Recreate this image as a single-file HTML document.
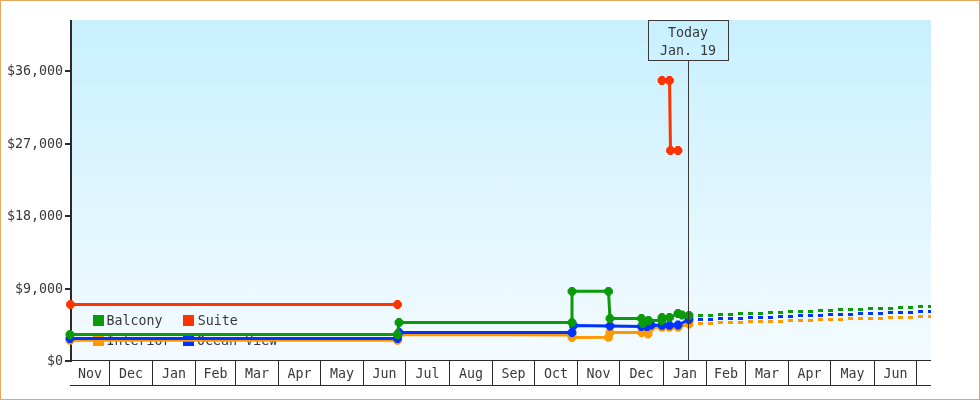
<!DOCTYPE html>
<html lang="en"><head><meta charset="utf-8"><title>Price history</title>
<style>
html,body{margin:0;padding:0;background:#fff;}
body{width:980px;height:400px;overflow:hidden;}
svg{display:block;}
text{font-family:"DejaVu Sans Mono", "Liberation Mono", monospace;font-size:13.3px;fill:#383838;}
</style></head><body>
<svg width="980" height="400" viewBox="0 0 980 400">
<defs><linearGradient id="bg" x1="0" y1="0" x2="0" y2="1"><stop offset="0" stop-color="#C8F0FF"/><stop offset="1" stop-color="#F4FBFF"/></linearGradient></defs>
<rect x="0" y="0" width="980" height="400" fill="#fff"/>
<rect x="0.5" y="0.5" width="979" height="399" fill="none" stroke="#E9A45E" stroke-width="1"/>
<rect x="72" y="20" width="859" height="340" fill="url(#bg)" shape-rendering="crispEdges"/>
<g>
<rect x="93" y="315" width="11" height="11" fill="#0A9A0A" shape-rendering="crispEdges"/>
<text x="106.5" y="324.5">Balcony</text>
<rect x="183" y="315" width="11" height="11" fill="#FF3300" shape-rendering="crispEdges"/>
<text x="197.8" y="324.5">Suite</text>
<rect x="93" y="335" width="11" height="11" fill="#FF9900" shape-rendering="crispEdges"/>
<text x="106.5" y="344.5">Interior</text>
<rect x="183" y="335" width="11" height="11" fill="#0033FF" shape-rendering="crispEdges"/>
<text x="197.1" y="344.5">Ocean View</text>
</g>
<g fill="#2a2a2a" shape-rendering="crispEdges">
<rect x="70" y="20" width="2" height="342"/>
<rect x="65" y="70" width="5" height="2"/>
<rect x="65" y="143" width="5" height="2"/>
<rect x="65" y="215" width="5" height="2"/>
<rect x="65" y="288" width="5" height="2"/>
<rect x="65" y="360" width="5" height="2"/>
<rect x="70" y="360" width="861" height="1"/>
<rect x="70" y="385" width="861" height="1"/>
<rect x="109" y="360" width="1" height="26"/>
<rect x="152" y="360" width="1" height="26"/>
<rect x="195" y="360" width="1" height="26"/>
<rect x="235" y="360" width="1" height="26"/>
<rect x="278" y="360" width="1" height="26"/>
<rect x="320" y="360" width="1" height="26"/>
<rect x="363" y="360" width="1" height="26"/>
<rect x="405" y="360" width="1" height="26"/>
<rect x="449" y="360" width="1" height="26"/>
<rect x="492" y="360" width="1" height="26"/>
<rect x="534" y="360" width="1" height="26"/>
<rect x="577" y="360" width="1" height="26"/>
<rect x="619" y="360" width="1" height="26"/>
<rect x="663" y="360" width="1" height="26"/>
<rect x="706" y="360" width="1" height="26"/>
<rect x="745" y="360" width="1" height="26"/>
<rect x="788" y="360" width="1" height="26"/>
<rect x="830" y="360" width="1" height="26"/>
<rect x="874" y="360" width="1" height="26"/>
<rect x="916" y="360" width="1" height="26"/>
</g>
<g text-anchor="end">
<text x="63" y="75">$36,000</text>
<text x="63" y="148">$27,000</text>
<text x="63" y="220">$18,000</text>
<text x="63" y="293">$9,000</text>
<text x="63" y="365">$0</text>
</g>
<g text-anchor="middle">
<text x="90.0" y="377.5">Nov</text>
<text x="131.0" y="377.5">Dec</text>
<text x="174.0" y="377.5">Jan</text>
<text x="215.5" y="377.5">Feb</text>
<text x="257.0" y="377.5">Mar</text>
<text x="299.5" y="377.5">Apr</text>
<text x="342.0" y="377.5">May</text>
<text x="384.5" y="377.5">Jun</text>
<text x="427.5" y="377.5">Jul</text>
<text x="471.0" y="377.5">Aug</text>
<text x="513.5" y="377.5">Sep</text>
<text x="556.0" y="377.5">Oct</text>
<text x="598.5" y="377.5">Nov</text>
<text x="641.5" y="377.5">Dec</text>
<text x="685.0" y="377.5">Jan</text>
<text x="726.0" y="377.5">Feb</text>
<text x="767.0" y="377.5">Mar</text>
<text x="809.5" y="377.5">Apr</text>
<text x="852.5" y="377.5">May</text>
<text x="895.5" y="377.5">Jun</text>
</g>
<g>
<path d="M70,340.3 L397.5,340.3 L399,334.5 L572,335 L572,337.5 L608.5,337.3 L610,332.5 L641.5,332.5 L648,334 L651,327.3 L662,327.3 L669.5,327.3 L678,327.3 L689,324" fill="none" stroke="#FF9900" stroke-width="3" stroke-linejoin="round" stroke-linecap="butt"/>
<polygon points="68.4,335.9 71.6,335.9 74.4,338.7 74.4,341.9 71.6,344.7 68.4,344.7 65.6,341.9 65.6,338.7" fill="#FF9900"/>
<polygon points="395.9,335.9 399.1,335.9 401.9,338.7 401.9,341.9 399.1,344.7 395.9,344.7 393.1,341.9 393.1,338.7" fill="#FF9900"/>
<polygon points="397.4,330.1 400.6,330.1 403.4,332.9 403.4,336.1 400.6,338.9 397.4,338.9 394.6,336.1 394.6,332.9" fill="#FF9900"/>
<polygon points="570.4,330.6 573.6,330.6 576.4,333.4 576.4,336.6 573.6,339.4 570.4,339.4 567.6,336.6 567.6,333.4" fill="#FF9900"/>
<polygon points="570.4,333.1 573.6,333.1 576.4,335.9 576.4,339.1 573.6,341.9 570.4,341.9 567.6,339.1 567.6,335.9" fill="#FF9900"/>
<polygon points="606.9,332.9 610.1,332.9 612.9,335.7 612.9,338.9 610.1,341.7 606.9,341.7 604.1,338.9 604.1,335.7" fill="#FF9900"/>
<polygon points="608.4,328.1 611.6,328.1 614.4,330.9 614.4,334.1 611.6,336.9 608.4,336.9 605.6,334.1 605.6,330.9" fill="#FF9900"/>
<polygon points="639.9,328.1 643.1,328.1 645.9,330.9 645.9,334.1 643.1,336.9 639.9,336.9 637.1,334.1 637.1,330.9" fill="#FF9900"/>
<polygon points="646.4,329.6 649.6,329.6 652.4,332.4 652.4,335.6 649.6,338.4 646.4,338.4 643.6,335.6 643.6,332.4" fill="#FF9900"/>
<polygon points="649.4,322.9 652.6,322.9 655.4,325.7 655.4,328.9 652.6,331.7 649.4,331.7 646.6,328.9 646.6,325.7" fill="#FF9900"/>
<polygon points="660.4,322.9 663.6,322.9 666.4,325.7 666.4,328.9 663.6,331.7 660.4,331.7 657.6,328.9 657.6,325.7" fill="#FF9900"/>
<polygon points="667.9,322.9 671.1,322.9 673.9,325.7 673.9,328.9 671.1,331.7 667.9,331.7 665.1,328.9 665.1,325.7" fill="#FF9900"/>
<polygon points="676.4,322.9 679.6,322.9 682.4,325.7 682.4,328.9 679.6,331.7 676.4,331.7 673.6,328.9 673.6,325.7" fill="#FF9900"/>
<polygon points="687.4,319.6 690.6,319.6 693.4,322.4 693.4,325.6 690.6,328.4 687.4,328.4 684.6,325.6 684.6,322.4" fill="#FF9900"/>
<g fill="#FF9900" shape-rendering="crispEdges"><rect x="698" y="322" width="5" height="3"/><rect x="708" y="322" width="5" height="3"/><rect x="718" y="321" width="5" height="3"/><rect x="728" y="321" width="5" height="3"/><rect x="738" y="321" width="5" height="3"/><rect x="748" y="320" width="5" height="3"/><rect x="758" y="320" width="5" height="3"/><rect x="768" y="320" width="5" height="3"/><rect x="778" y="320" width="5" height="3"/><rect x="788" y="319" width="5" height="3"/><rect x="798" y="319" width="5" height="3"/><rect x="808" y="319" width="5" height="3"/><rect x="818" y="318" width="5" height="3"/><rect x="828" y="318" width="5" height="3"/><rect x="838" y="318" width="5" height="3"/><rect x="848" y="317" width="5" height="3"/><rect x="858" y="317" width="5" height="3"/><rect x="868" y="317" width="5" height="3"/><rect x="878" y="317" width="5" height="3"/><rect x="888" y="316" width="5" height="3"/><rect x="898" y="316" width="5" height="3"/><rect x="908" y="316" width="5" height="3"/><rect x="918" y="315" width="5" height="3"/><rect x="928" y="315" width="3" height="3"/></g>
<path d="M70,338.5 L397.5,338.5 L399,332.5 L572,332.5 L573.5,325.5 L610,326 L641.5,326.5 L647,326.5 L651,325.2 L662,325.3 L669.5,325.3 L678,325 L689,319.5" fill="none" stroke="#0033FF" stroke-width="3" stroke-linejoin="round" stroke-linecap="butt"/>
<polygon points="68.4,334.1 71.6,334.1 74.4,336.9 74.4,340.1 71.6,342.9 68.4,342.9 65.6,340.1 65.6,336.9" fill="#0033FF"/>
<polygon points="395.9,334.1 399.1,334.1 401.9,336.9 401.9,340.1 399.1,342.9 395.9,342.9 393.1,340.1 393.1,336.9" fill="#0033FF"/>
<polygon points="397.4,328.1 400.6,328.1 403.4,330.9 403.4,334.1 400.6,336.9 397.4,336.9 394.6,334.1 394.6,330.9" fill="#0033FF"/>
<polygon points="570.4,328.1 573.6,328.1 576.4,330.9 576.4,334.1 573.6,336.9 570.4,336.9 567.6,334.1 567.6,330.9" fill="#0033FF"/>
<polygon points="571.9,321.1 575.1,321.1 577.9,323.9 577.9,327.1 575.1,329.9 571.9,329.9 569.1,327.1 569.1,323.9" fill="#0033FF"/>
<polygon points="608.4,321.6 611.6,321.6 614.4,324.4 614.4,327.6 611.6,330.4 608.4,330.4 605.6,327.6 605.6,324.4" fill="#0033FF"/>
<polygon points="639.9,322.1 643.1,322.1 645.9,324.9 645.9,328.1 643.1,330.9 639.9,330.9 637.1,328.1 637.1,324.9" fill="#0033FF"/>
<polygon points="645.4,322.1 648.6,322.1 651.4,324.9 651.4,328.1 648.6,330.9 645.4,330.9 642.6,328.1 642.6,324.9" fill="#0033FF"/>
<polygon points="649.4,320.8 652.6,320.8 655.4,323.6 655.4,326.8 652.6,329.6 649.4,329.6 646.6,326.8 646.6,323.6" fill="#0033FF"/>
<polygon points="660.4,320.9 663.6,320.9 666.4,323.7 666.4,326.9 663.6,329.7 660.4,329.7 657.6,326.9 657.6,323.7" fill="#0033FF"/>
<polygon points="667.9,320.9 671.1,320.9 673.9,323.7 673.9,326.9 671.1,329.7 667.9,329.7 665.1,326.9 665.1,323.7" fill="#0033FF"/>
<polygon points="676.4,320.6 679.6,320.6 682.4,323.4 682.4,326.6 679.6,329.4 676.4,329.4 673.6,326.6 673.6,323.4" fill="#0033FF"/>
<polygon points="687.4,315.1 690.6,315.1 693.4,317.9 693.4,321.1 690.6,323.9 687.4,323.9 684.6,321.1 684.6,317.9" fill="#0033FF"/>
<g fill="#0033FF" shape-rendering="crispEdges"><rect x="698" y="318" width="5" height="3"/><rect x="708" y="318" width="5" height="3"/><rect x="718" y="317" width="5" height="3"/><rect x="728" y="317" width="5" height="3"/><rect x="738" y="317" width="5" height="3"/><rect x="748" y="316" width="5" height="3"/><rect x="758" y="316" width="5" height="3"/><rect x="768" y="316" width="5" height="3"/><rect x="778" y="315" width="5" height="3"/><rect x="788" y="315" width="5" height="3"/><rect x="798" y="314" width="5" height="3"/><rect x="808" y="314" width="5" height="3"/><rect x="818" y="314" width="5" height="3"/><rect x="828" y="313" width="5" height="3"/><rect x="838" y="313" width="5" height="3"/><rect x="848" y="313" width="5" height="3"/><rect x="858" y="312" width="5" height="3"/><rect x="868" y="312" width="5" height="3"/><rect x="878" y="312" width="5" height="3"/><rect x="888" y="311" width="5" height="3"/><rect x="898" y="311" width="5" height="3"/><rect x="908" y="311" width="5" height="3"/><rect x="918" y="310" width="5" height="3"/><rect x="928" y="310" width="3" height="3"/></g>
<path d="M70,334.5 L397.5,334.5 L399,322.5 L572,322.5 L572,291.3 L608.5,291.3 L610,318.5 L641.5,318.5 L643,323.5 L648.5,320.5 L662,320.5 L662,317.5 L669.5,317.5 L678,313.5 L682,315 L689,315.3" fill="none" stroke="#0A9A0A" stroke-width="3" stroke-linejoin="round" stroke-linecap="butt"/>
<polygon points="68.4,330.1 71.6,330.1 74.4,332.9 74.4,336.1 71.6,338.9 68.4,338.9 65.6,336.1 65.6,332.9" fill="#0A9A0A"/>
<polygon points="395.9,330.1 399.1,330.1 401.9,332.9 401.9,336.1 399.1,338.9 395.9,338.9 393.1,336.1 393.1,332.9" fill="#0A9A0A"/>
<polygon points="397.4,318.1 400.6,318.1 403.4,320.9 403.4,324.1 400.6,326.9 397.4,326.9 394.6,324.1 394.6,320.9" fill="#0A9A0A"/>
<polygon points="570.4,318.1 573.6,318.1 576.4,320.9 576.4,324.1 573.6,326.9 570.4,326.9 567.6,324.1 567.6,320.9" fill="#0A9A0A"/>
<polygon points="570.4,286.9 573.6,286.9 576.4,289.7 576.4,292.9 573.6,295.7 570.4,295.7 567.6,292.9 567.6,289.7" fill="#0A9A0A"/>
<polygon points="606.9,286.9 610.1,286.9 612.9,289.7 612.9,292.9 610.1,295.7 606.9,295.7 604.1,292.9 604.1,289.7" fill="#0A9A0A"/>
<polygon points="608.4,314.1 611.6,314.1 614.4,316.9 614.4,320.1 611.6,322.9 608.4,322.9 605.6,320.1 605.6,316.9" fill="#0A9A0A"/>
<polygon points="639.9,314.1 643.1,314.1 645.9,316.9 645.9,320.1 643.1,322.9 639.9,322.9 637.1,320.1 637.1,316.9" fill="#0A9A0A"/>
<polygon points="641.4,319.1 644.6,319.1 647.4,321.9 647.4,325.1 644.6,327.9 641.4,327.9 638.6,325.1 638.6,321.9" fill="#0A9A0A"/>
<polygon points="646.9,316.1 650.1,316.1 652.9,318.9 652.9,322.1 650.1,324.9 646.9,324.9 644.1,322.1 644.1,318.9" fill="#0A9A0A"/>
<polygon points="660.4,316.1 663.6,316.1 666.4,318.9 666.4,322.1 663.6,324.9 660.4,324.9 657.6,322.1 657.6,318.9" fill="#0A9A0A"/>
<polygon points="660.4,313.1 663.6,313.1 666.4,315.9 666.4,319.1 663.6,321.9 660.4,321.9 657.6,319.1 657.6,315.9" fill="#0A9A0A"/>
<polygon points="667.9,313.1 671.1,313.1 673.9,315.9 673.9,319.1 671.1,321.9 667.9,321.9 665.1,319.1 665.1,315.9" fill="#0A9A0A"/>
<polygon points="676.4,309.1 679.6,309.1 682.4,311.9 682.4,315.1 679.6,317.9 676.4,317.9 673.6,315.1 673.6,311.9" fill="#0A9A0A"/>
<polygon points="680.4,310.6 683.6,310.6 686.4,313.4 686.4,316.6 683.6,319.4 680.4,319.4 677.6,316.6 677.6,313.4" fill="#0A9A0A"/>
<polygon points="687.4,310.9 690.6,310.9 693.4,313.7 693.4,316.9 690.6,319.7 687.4,319.7 684.6,316.9 684.6,313.7" fill="#0A9A0A"/>
<g fill="#0A9A0A" shape-rendering="crispEdges"><rect x="698" y="314" width="5" height="3"/><rect x="708" y="314" width="5" height="3"/><rect x="718" y="313" width="5" height="3"/><rect x="728" y="313" width="5" height="3"/><rect x="738" y="312" width="5" height="3"/><rect x="748" y="312" width="5" height="3"/><rect x="758" y="312" width="5" height="3"/><rect x="768" y="311" width="5" height="3"/><rect x="778" y="311" width="5" height="3"/><rect x="788" y="310" width="5" height="3"/><rect x="798" y="310" width="5" height="3"/><rect x="808" y="310" width="5" height="3"/><rect x="818" y="309" width="5" height="3"/><rect x="828" y="309" width="5" height="3"/><rect x="838" y="308" width="5" height="3"/><rect x="848" y="308" width="5" height="3"/><rect x="858" y="308" width="5" height="3"/><rect x="868" y="307" width="5" height="3"/><rect x="878" y="307" width="5" height="3"/><rect x="888" y="307" width="5" height="3"/><rect x="898" y="306" width="5" height="3"/><rect x="908" y="306" width="5" height="3"/><rect x="918" y="305" width="5" height="3"/><rect x="928" y="305" width="3" height="3"/></g>
<path d="M70.5,304.5 L397.5,304.5" fill="none" stroke="#FF3300" stroke-width="3" stroke-linejoin="round" stroke-linecap="butt"/>
<polygon points="68.9,300.1 72.1,300.1 74.9,302.9 74.9,306.1 72.1,308.9 68.9,308.9 66.1,306.1 66.1,302.9" fill="#FF3300"/>
<polygon points="395.9,300.1 399.1,300.1 401.9,302.9 401.9,306.1 399.1,308.9 395.9,308.9 393.1,306.1 393.1,302.9" fill="#FF3300"/>
<path d="M662,80.5 L669.5,80.5 L670.5,150.5 L678,150.5" fill="none" stroke="#FF3300" stroke-width="3" stroke-linejoin="round" stroke-linecap="butt"/>
<polygon points="660.4,76.1 663.6,76.1 666.4,78.9 666.4,82.1 663.6,84.9 660.4,84.9 657.6,82.1 657.6,78.9" fill="#FF3300"/>
<polygon points="667.9,76.1 671.1,76.1 673.9,78.9 673.9,82.1 671.1,84.9 667.9,84.9 665.1,82.1 665.1,78.9" fill="#FF3300"/>
<polygon points="668.9,146.1 672.1,146.1 674.9,148.9 674.9,152.1 672.1,154.9 668.9,154.9 666.1,152.1 666.1,148.9" fill="#FF3300"/>
<polygon points="676.4,146.1 679.6,146.1 682.4,148.9 682.4,152.1 679.6,154.9 676.4,154.9 673.6,152.1 673.6,148.9" fill="#FF3300"/>
</g>
<g shape-rendering="crispEdges">
<rect x="688" y="60" width="1" height="300" fill="#3a3a3a"/>
<rect x="648.5" y="20.5" width="80" height="40" fill="none" stroke="#3a3a3a" stroke-width="1"/>
</g>
<g text-anchor="middle"><text x="688" y="36.5">Today</text><text x="688" y="54.5">Jan. 19</text></g>
</svg>
</body></html>
